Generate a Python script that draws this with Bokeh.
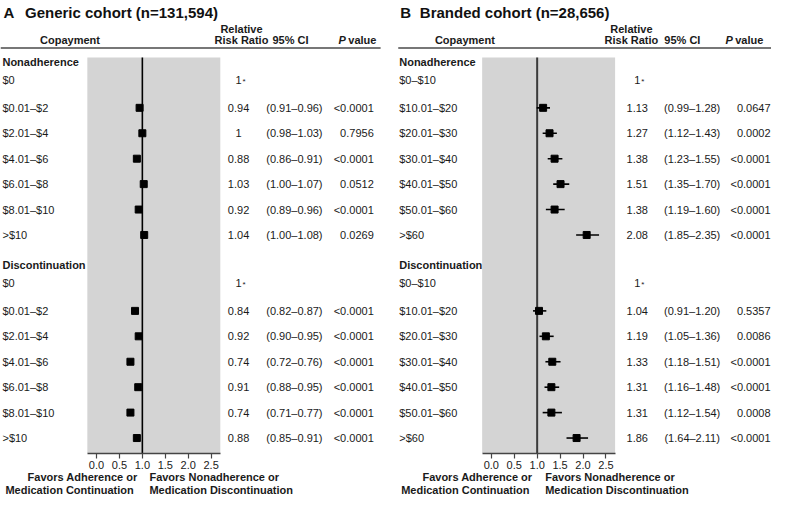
from bokeh.plotting import figure
from bokeh.models import Range1d, LinearAxis, FixedTicker, PrintfTickFormatter
from bokeh.core.properties import value
from bokeh.embed import file_html
from bokeh.resources import INLINE

# ---------------- data ----------------
outcomes = ["Nonadherence", "Discontinuation"]

generic_title = ("A", "Generic cohort (n=131,594)")
generic_copay = ["$0", "$0.01–$2", "$2.01–$4", "$4.01–$6", "$6.01–$8", "$8.01–$10", ">$10"]
generic_nonadh_rr = [0.94, 1.00, 0.88, 1.03, 0.92, 1.04]
generic_nonadh_lo = [0.91, 0.98, 0.86, 1.00, 0.89, 1.00]
generic_nonadh_hi = [0.96, 1.03, 0.91, 1.07, 0.96, 1.08]
generic_nonadh_p = ["<0.0001", "0.7956", "<0.0001", "0.0512", "<0.0001", "0.0269"]
generic_disc_rr = [0.84, 0.92, 0.74, 0.91, 0.74, 0.88]
generic_disc_lo = [0.82, 0.90, 0.72, 0.88, 0.71, 0.85]
generic_disc_hi = [0.87, 0.95, 0.76, 0.95, 0.77, 0.91]
generic_disc_p = ["<0.0001", "<0.0001", "<0.0001", "<0.0001", "<0.0001", "<0.0001"]

branded_title = ("B", "Branded cohort (n=28,656)")
branded_copay = ["$0–$10", "$10.01–$20", "$20.01–$30", "$30.01–$40", "$40.01–$50", "$50.01–$60", ">$60"]
branded_nonadh_rr = [1.13, 1.27, 1.38, 1.51, 1.38, 2.08]
branded_nonadh_lo = [0.99, 1.12, 1.23, 1.35, 1.19, 1.85]
branded_nonadh_hi = [1.28, 1.43, 1.55, 1.70, 1.60, 2.35]
branded_nonadh_p = ["0.0647", "0.0002", "<0.0001", "<0.0001", "<0.0001", "<0.0001"]
branded_disc_rr = [1.04, 1.19, 1.33, 1.31, 1.31, 1.86]
branded_disc_lo = [0.91, 1.05, 1.18, 1.16, 1.12, 1.64]
branded_disc_hi = [1.20, 1.36, 1.51, 1.48, 1.54, 2.11]
branded_disc_p = ["0.5357", "0.0086", "<0.0001", "<0.0001", "0.0008", "<0.0001"]

axis_ticks = [0.0, 0.5, 1.0, 1.5, 2.0, 2.5]
favors_left = ["Favors Adherence or", "Medication Continuation"]
favors_right = ["Favors Nonadherence or", "Medication Discontinuation"]

# ---------------- layout ----------------
REF_W, REF_H = 787, 514
PX_PER_UNIT = 46.8
FONT = value("Liberation Sans")
TXT = "#1a1a1a"
SEC_Y = [64, 274]
ROW_STEP = 26.3
BOX_TOP, BOX_BOT = 59, 468
BOX_X = (-0.2, 2.7)

p = figure(width=771, height=497, output_backend="svg", toolbar_location=None,
           x_range=Range1d(0, REF_W), y_range=Range1d(REF_H, 0),
           x_axis_location=None, y_axis_location=None,
           min_border=0, outline_line_color=None)
p.grid.visible = False

panels = [
    dict(name="rrA", zero=98, title=generic_title, copay=generic_copay,
         sections=[(generic_nonadh_rr, generic_nonadh_lo, generic_nonadh_hi, generic_nonadh_p),
                   (generic_disc_rr, generic_disc_lo, generic_disc_hi, generic_disc_p)],
         title_x=(3, 25), line=(0, 388), cop_x=71, rel_x=246, hci_x=296, hp_x=(345, 355),
         label_x=2, rr_x=243, ci_x=300, p_x=381, fav_l=(140, 136), fav_r=152,
         ref_color="#000000", ref_w=1.6),
    dict(name="rrB", zero=501, title=branded_title, copay=branded_copay,
         sections=[(branded_nonadh_rr, branded_nonadh_lo, branded_nonadh_hi, branded_nonadh_p),
                   (branded_disc_rr, branded_disc_lo, branded_disc_hi, branded_disc_p)],
         title_x=(408, 428), line=(406, 787), cop_x=474, rel_x=644, hci_x=696, hp_x=(740, 750),
         label_x=407, rr_x=650, ci_x=706, p_x=786, fav_l=(543, 540), fav_r=556,
         ref_color="#3a3a3a", ref_w=2.0),
]

p.extra_x_ranges = {pn["name"]: Range1d(-pn["zero"] / PX_PER_UNIT, (REF_W - pn["zero"]) / PX_PER_UNIT)
                    for pn in panels}


def txt(x, y, t, size="11px", align="left", style="normal", color=TXT, baseline="middle"):
    p.text(x=x, y=y, text=t, text_font=FONT, text_font_size=size, text_align=align,
           text_baseline=baseline, text_font_style=style, text_color=color)


def fmt(v):
    return "1" if abs(v - 1.0) < 1e-9 else f"{v:.2f}"


for pn in panels:
    rn = pn["name"]
    # title
    txt([pn["title_x"][0]], [12], [pn["title"][0]], size="15px", style="bold", color="#111")
    txt([pn["title_x"][1]], [12], [pn["title"][1]], size="15px", style="bold", color="#111")
    # header
    txt([pn["cop_x"]], [41], ["Copayment"], align="center", style="bold")
    txt([pn["rel_x"]], [29], ["Relative"], align="center", style="bold")
    txt([pn["rel_x"]], [41], ["Risk Ratio"], align="center", style="bold")
    txt([pn["hci_x"]], [41], ["95% CI"], align="center", style="bold")
    txt([pn["hp_x"][0]], [41], ["P"], style="bold italic")
    txt([pn["hp_x"][1]], [41], ["value"], style="bold")
    p.segment(x0=[pn["line"][0]], x1=[pn["line"][1]], y0=[49], y1=[49],
              line_color="#777777", line_width=2)

    # gray box and reference line
    p.quad(left=[BOX_X[0]], right=[BOX_X[1]], top=[BOX_TOP], bottom=[BOX_BOT],
           fill_color="#d4d4d4", line_color=None, x_range_name=rn)
    p.segment(x0=[1.0], x1=[1.0], y0=[BOX_TOP], y1=[BOX_BOT],
              line_color=pn["ref_color"], line_width=pn["ref_w"], x_range_name=rn)

    for s, (rr, lo, hi, pv) in enumerate(pn["sections"]):
        hy = SEC_Y[s]
        txt([pn["label_x"]], [hy], [outcomes[s]], style="bold")
        ref_y = hy + 18
        txt([pn["label_x"]], [ref_y], [pn["copay"][0]])
        txt([pn["rr_x"]], [ref_y], ["1"], align="center")
        txt([pn["rr_x"] + 4], [ref_y + 2], ["*"], size="8px")
        ys = [hy + 47 + i * ROW_STEP for i in range(len(rr))]
        txt([pn["label_x"]] * len(ys), ys, pn["copay"][1:])
        p.segment(x0=lo, x1=hi, y0=ys, y1=ys, line_color="#000000", line_width=1.6,
                  x_range_name=rn)
        p.scatter(x=rr, y=ys, marker="square", size=7, fill_color="#000000",
                  line_color="#000000", x_range_name=rn)
        txt([pn["rr_x"]] * len(ys), ys, [fmt(v) for v in rr], align="center")
        txt([pn["ci_x"]] * len(ys), ys, [f"({a:.2f}–{b:.2f})" for a, b in zip(lo, hi)],
            align="center")
        txt([pn["p_x"]] * len(ys), ys, pv, align="right")

    ax = LinearAxis(x_range_name=rn, fixed_location=BOX_BOT, bounds=BOX_X,
                    ticker=FixedTicker(ticks=axis_ticks, minor_ticks=[]),
                    formatter=PrintfTickFormatter(format="%.1f"))
    ax.axis_line_color = "#444444"
    ax.axis_line_width = 1.5
    ax.major_tick_line_color = "#444444"
    ax.major_tick_line_width = 1.2
    ax.major_tick_in = 0
    ax.major_tick_out = 5
    ax.minor_tick_line_color = None
    ax.major_label_text_font = "Liberation Sans"
    ax.major_label_text_font_size = "11px"
    ax.major_label_text_color = TXT
    ax.major_label_standoff = 3
    p.add_layout(ax, "below")

    # favors labels
    txt([pn["fav_l"][0]], [493], [favors_left[0]], align="right", style="bold")
    txt([pn["fav_l"][1]], [506], [favors_left[1]], align="right", style="bold")
    txt([pn["fav_r"]], [493], [favors_right[0]], style="bold")
    txt([pn["fav_r"]], [506], [favors_right[1]], style="bold")

open("out.html", "w").write(file_html(p, INLINE))
